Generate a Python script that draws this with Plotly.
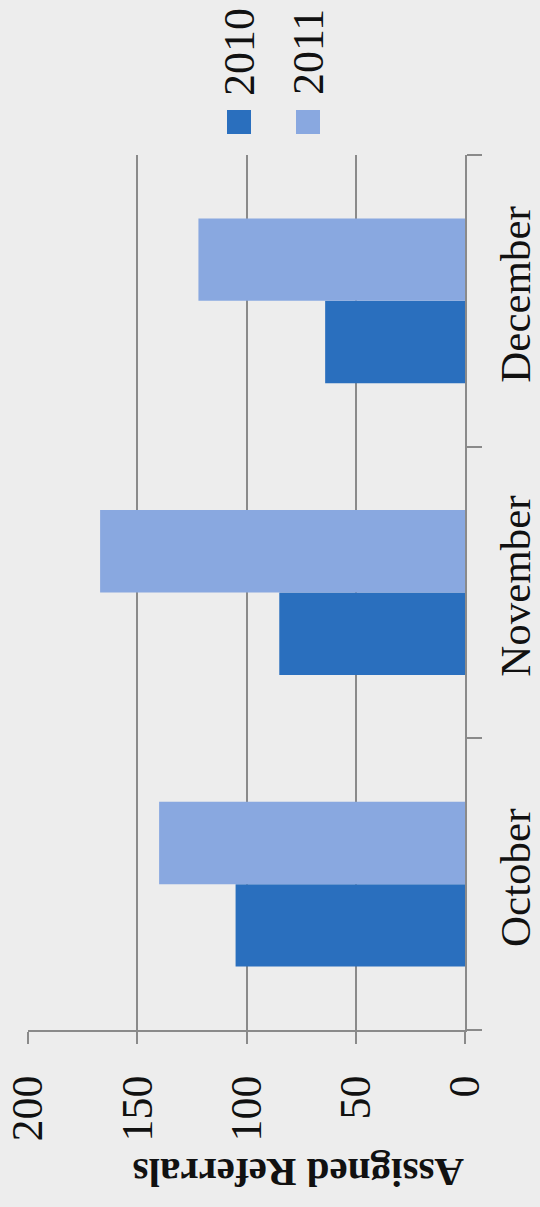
import plotly.graph_objects as go

months = ["October", "November", "December"]
series_names = ["2010", "2011"]
values_2010 = [105, 85, 64]
values_2011 = [140, 167, 122]
colors = ["#2a6fbe", "#89a8e0"]
value_ticks = [0, 50, 100, 150, 200]
axis_title = "Assigned Referrals"

BG = "#ededed"
GRID = "#8a8a8a"
FONT = "Liberation Serif"

fig = go.Figure()
for name, vals, col in zip(series_names, [values_2010, values_2011], colors):
    fig.add_trace(go.Bar(
        y=months, x=vals, orientation="h", name=name,
        marker=dict(color=col, line=dict(width=0)),
        showlegend=False,
    ))

fig.update_layout(
    width=540, height=1207,
    margin=dict(l=28, r=75, t=155, b=177, autoexpand=False),
    paper_bgcolor=BG, plot_bgcolor=BG,
    barmode="group", bargap=0.435, bargroupgap=0,
    font=dict(family=FONT, size=44, color="#111111"),
)
fig.update_xaxes(
    range=[200, 0], tickvals=value_ticks, ticktext=[str(v) for v in value_ticks],
    tickangle=-90, showgrid=True, gridcolor=GRID, gridwidth=2,
    zeroline=False, showline=True, linecolor=GRID, linewidth=2,
    ticks="outside", ticklen=12, tickwidth=2, tickcolor=GRID,
    ticklabelstandoff=14, automargin=False,
    tickfont=dict(family=FONT, size=44, color="#111111"),
)
fig.update_yaxes(
    side="right", categoryorder="array", categoryarray=months,
    range=[-0.5, 2.5], tickangle=-90, tickson="boundaries",
    showline=True, linecolor=GRID, linewidth=2,
    ticks="outside", ticklen=15, tickwidth=2, tickcolor=GRID,
    ticklabelstandoff=11, automargin=False,
    showgrid=False, zeroline=False,
    tickfont=dict(family=FONT, size=43, color="#111111"),
)

# axis title (rotated upside down as in the reference)
fig.add_annotation(
    text="<b>" + axis_title + "</b>", xref="paper", yref="paper",
    x=(299 - 28) / 437, y=-(1173 - 1030) / 875, showarrow=False,
    textangle=180, font=dict(family=FONT, size=41, color="#111111"),
    xanchor="center", yanchor="middle",
)

# legend drawn as rotated labels with colour swatches
legend_x = [239, 308]
for name, col, lx in zip(series_names, colors, legend_x):
    xp = (lx - 28) / 437
    fig.add_shape(
        type="rect", xref="paper", yref="paper",
        x0=xp - 12 / 437, x1=xp + 12 / 437,
        y0=1 + (155 - 134) / 875, y1=1 + (155 - 110) / 875,
        fillcolor=col, line=dict(width=0),
    )
    fig.add_annotation(
        text=name, xref="paper", yref="paper",
        x=xp, y=1 + (155 - 52) / 875, showarrow=False,
        textangle=-90, font=dict(family=FONT, size=44, color="#111111"),
        xanchor="center", yanchor="middle",
    )

fig.write_html("out.html")
